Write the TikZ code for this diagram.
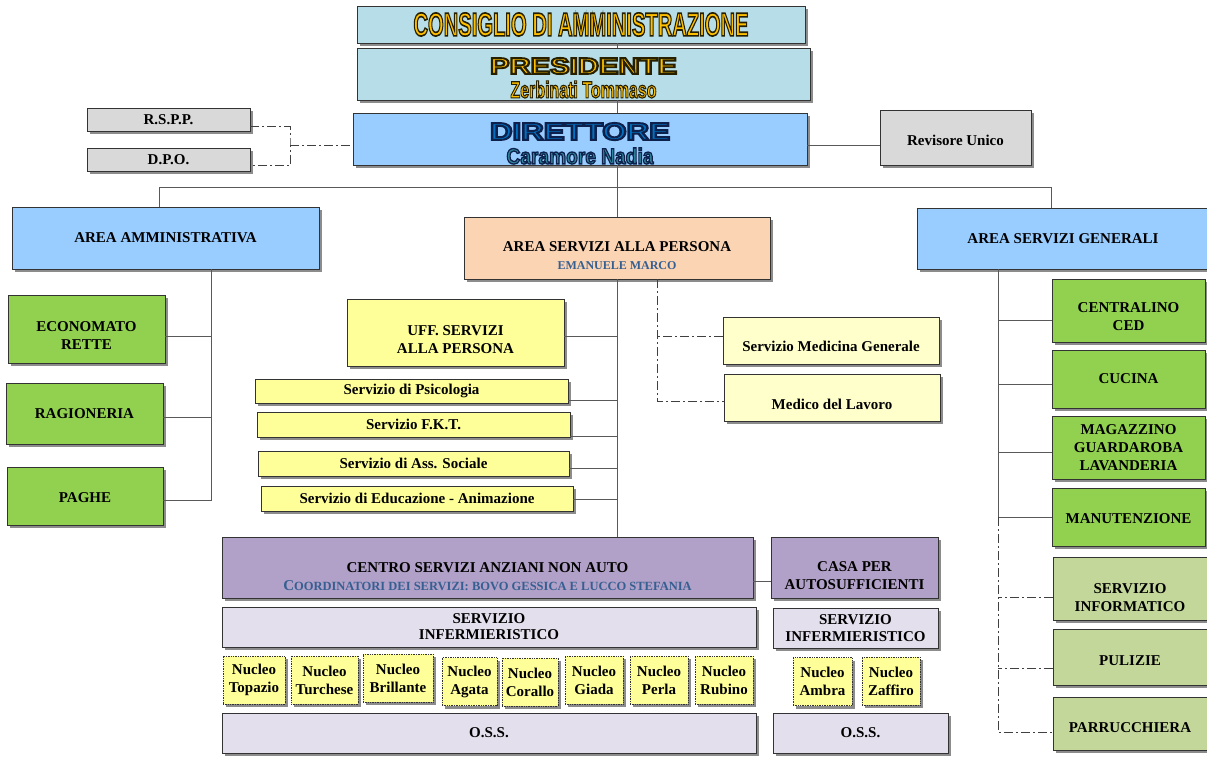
\documentclass[tikz,border=0pt]{standalone}
\usepackage{fontspec}
\setmainfont{Liberation Serif}
\newfontfamily\hdrfont{Liberation Sans}
\usepackage{graphicx}
\usetikzlibrary{shadows}

\definecolor{celeste}{HTML}{B7DEE8}
\definecolor{azzurro}{HTML}{99CCFF}
\definecolor{pesca}{HTML}{FBD4B4}
\definecolor{verde}{HTML}{92D050}
\definecolor{verdino}{HTML}{C4D79B}
\definecolor{giallo}{HTML}{FFFF99}
\definecolor{paglia}{HTML}{FFFFCC}
\definecolor{viola}{HTML}{B1A0C7}
\definecolor{lilla}{HTML}{E4DFEC}
\definecolor{grigio}{HTML}{D9D9D9}
\definecolor{oro}{HTML}{FFC000}
\definecolor{blu}{HTML}{0070C0}
\definecolor{ottanio}{HTML}{31859C}
\definecolor{bluscuro}{HTML}{365F91}

\newcommand{\titolo}[6][6]{\resizebox{#4}{#5}{\hdrfont\bfseries\addfontfeature{FakeBold=#1}\color{#2}\special{pdf:literal direct #3 RG}#6}}
\newcommand{\su}[1]{\rule{0pt}{#1pt}}

\begin{document}
\begin{tikzpicture}[x=1pt,y=-1pt,
	box/.style={draw=black!80, line width=.7pt, align=center, inner sep=1pt,
		font=\fontsize{15}{18}\selectfont\bfseries,
		drop shadow={shadow xshift=3pt, shadow yshift=-3pt, fill=black!45, opacity=1}},
	wh/.style 2 args={minimum width=#1pt, minimum height=#2pt},
	nucleo/.style={box, densely dotted, fill=giallo},
	linea/.style={draw=black!65, line width=.9pt},
	tratteggio/.style={draw=black!75, line width=.8pt, dash pattern=on 9pt off 3pt on 2pt off 3pt}]
	\useasboundingbox (0,0) rectangle (1207,757);

	\node[box, fill=celeste, wh={448}{37}] (consiglio) at (581,24.5) {\titolo[5]{oro}{0.15 0.12 0}{335pt}{23pt}{CONSIGLIO DI AMMINISTRAZIONE}};
	\node[box, fill=celeste, wh={453}{52}, font=\fontsize{10}{24}\selectfont] (presidente) at (583.5,74) {\su{24}\titolo[8]{oro}{0.15 0.12 0}{187pt}{16pt}{PRESIDENTE}\\\titolo[5]{oro}{0.15 0.12 0}{146pt}{17pt}{Zerbinati Tommaso}};
	\node[box, fill=azzurro, wh={454}{52}, font=\fontsize{10}{24}\selectfont] (direttore) at (580,139) {\su{26}\titolo[8]{blu}{0.05 0.13 0.3}{180pt}{17pt}{DIRETTORE}\\\titolo[6]{ottanio}{0.05 0.13 0.3}{147pt}{16pt}{Caramore Nadia}};
	\node[box, fill=grigio, wh={163}{23}] (rspp) at (168.5,119.5) {R.S.P.P.};
	\node[box, fill=grigio, wh={163}{23}] (dpo) at (168.5,159.5) {D.P.O.};
	\node[box, fill=grigio, wh={151}{55}] (revisore) at (955.5,137.5) {\su{17}Revisore Unico};

	\node[box, fill=azzurro, wh={307}{62}] (amm) at (165.5,238) {AREA AMMINISTRATIVA};
	\node[box, fill=pesca, wh={306}{62}] (asp) at (617,248) {\su{25}AREA SERVIZI ALLA PERSONA\\{\fontsize{12}{12}\selectfont\color{bluscuro}EMANUELE MARCO}};
	\node[box, fill=azzurro, wh={292}{61}] (gen) at (1063,238.5) {AREA SERVIZI GENERALI};

	\node[box, fill=verde, wh={157}{68}] (economato) at (86.5,329) {\su{23}ECONOMATO\\RETTE};
	\node[box, fill=verde, wh={157}{61}] (ragioneria) at (84.5,413.5) {RAGIONERIA};
	\node[box, fill=verde, wh={156}{58}] (paghe) at (85,496) {\su{14}PAGHE};

	\node[box, fill=giallo, wh={217}{67}] (uff) at (455.5,332.5) {\su{24}UFF. SERVIZI\\ALLA PERSONA};
	\node[box, fill=giallo, wh={313}{24}] (psicologia) at (411.5,391) {Servizio di Psicologia};
	\node[box, fill=giallo, wh={313}{25}] (fkt) at (413.5,424.5) {Servizio F.K.T.};
	\node[box, fill=giallo, wh={311}{25}] (sociale) at (413.5,463.5) {Servizio di Ass. Sociale};
	\node[box, fill=giallo, wh={312}{25}] (educazione) at (417,498.5) {Servizio di Educazione - Animazione};
	\node[box, fill=paglia, wh={216}{47}] (medicina) at (831,340.5) {\su{23}Servizio Medicina Generale};
	\node[box, fill=paglia, wh={216}{47}] (lavoro) at (832,397.5) {\su{24}Medico del Lavoro};

	\foreach \nome/\testo/\y/\h in {centralino/{\su{23}CENTRALINO\\CED}/310.5/63, cucina/CUCINA/379/58, magazzino/{MAGAZZINO\\GUARDAROBA\\LAVANDERIA}/447.5/63, manutenzione/{\su{14}MANUTENZIONE}/517/58}
	{
		\node[box, fill=verde, wh={153}{\h}] (\nome) at (1128.5,\y) {\testo};
	}
	\foreach \nome/\testo/\y/\h in {informatico/{\su{28}SERVIZIO\\INFORMATICO}/588.5/63, pulizie/{\su{17}PULIZIE}/657/56, parrucchiera/{\su{19}PARRUCCHIERA}/723.5/53}
	{
		\node[box, fill=verdino, wh={154}{\h}] (\nome) at (1130,\y) {\testo};
	}

	\node[box, fill=viola, wh={531}{61}] (centro) at (487.5,567.5) {\su{29}CENTRO SERVIZI ANZIANI NON AUTO\\{\color{bluscuro}\fontsize{15}{14}\selectfont C\fontsize{12.5}{14}\selectfont OORDINATORI DEI SERVIZI: BOVO GESSICA E LUCCO STEFANIA}};
	\node[box, fill=viola, wh={167}{61}] (casa) at (854.5,567.5) {\su{27}CASA PER\\AUTOSUFFICIENTI};
	\node[box, fill=lilla, wh={534}{40}, font=\fontsize{15}{16}\selectfont\bfseries] (inf1) at (489,627) {SERVIZIO\\INFERMIERISTICO};
	\node[box, fill=lilla, wh={165}{40}, font=\fontsize{15}{17}\selectfont\bfseries] (inf2) at (855.5,628) {SERVIZIO\\INFERMIERISTICO};
	\foreach \nome/\testo/\x/\y/\w in {topazio/Topazio/254/680/62, turchese/Turchese/324.5/680/67, brillante/Brillante/398/678/70, agata/Agata/469.5/681.5/55, corallo/Corallo/530/682/56, giada/Giada/594/680/58, perla/Perla/659/680/58, rubino/Rubino/724/680/58, ambra/Ambra/822.5/681.5/59, zaffiro/Zaffiro/891/681/58}
	{
		\node[nucleo, wh={\w}{48}] (\nome) at (\x,\y) {Nucleo\\\testo};
	}
	\node[box, fill=lilla, wh={534}{40}] (oss1) at (489,733) {O.S.S.};
	\node[box, fill=lilla, wh={175}{40}] (oss2) at (860.5,733) {O.S.S.};

	\coordinate (busL) at (159,187);
	\coordinate (busR) at (1051,187);
	\coordinate (rami) at (290,145);
	\coordinate (ammV) at (211,0);
	\coordinate (medV) at (657,0);
	\coordinate (genV) at (998,0);

	\draw[linea] (consiglio.south -| asp.north) -- (presidente.north -| asp.north);
	\draw[linea] (presidente.south -| asp.north) -- (direttore.north -| asp.north);
	\draw[linea] (direttore.south -| asp.north) -- (asp.north);
	\draw[linea] (asp.south) -- (asp.south |- centro.north);
	\draw[linea] (busL) -- (busR);
	\draw[linea] (busL) -- (busL |- amm.north);
	\draw[linea] (busR) -- (busR |- gen.north);
	\draw[linea] ([yshift=-6pt]direttore.east) -- ([yshift=-6pt]direttore.east -| revisore.west);
	\draw[tratteggio] ([yshift=-7pt]rspp.east) -| (rami) |- ([yshift=-6pt]dpo.east);
	\draw[tratteggio] (rami) -- (rami -| direttore.west);

	\draw[linea] (amm.south -| ammV) |- ([yshift=-4pt]paghe.east);
	\foreach \nome/\dy in {economato/7, ragioneria/4}
		\draw[linea] ([yshift=-\dy pt]\nome.east) -- ([yshift=-\dy pt]\nome.east -| ammV);

	\foreach \nome/\dy in {uff/3.5, psicologia/9, fkt/11.5, sociale/4.5, educazione/0.5}
		\draw[linea] ([yshift=-\dy pt]\nome.east) -- ([yshift=-\dy pt]\nome.east -| asp.south);
	\draw[tratteggio] (asp.south -| medV) |- ([yshift=-3.5pt]lavoro.west);
	\draw[tratteggio] ([yshift=4.5pt]medicina.west) -- ([yshift=4.5pt]medicina.west -| medV);

	\draw[linea] (gen.south -| genV) |- (manutenzione.west);
	\foreach \nome/\dy in {centralino/9.5, cucina/5, magazzino/4.5}
		\draw[linea] ([yshift=-\dy pt]\nome.west) -- ([yshift=-\dy pt]\nome.west -| genV);
	\draw[tratteggio] (manutenzione.west -| genV) |- ([yshift=-8.5pt]parrucchiera.west);
	\foreach \nome/\dy in {informatico/8.5, pulizie/11}
		\draw[tratteggio] ([yshift=-\dy pt]\nome.west) -- ([yshift=-\dy pt]\nome.west -| genV);

	\draw[linea] ([yshift=-13.5pt]centro.east) -- ([yshift=-13.5pt]casa.west);
\end{tikzpicture}
\end{document}
